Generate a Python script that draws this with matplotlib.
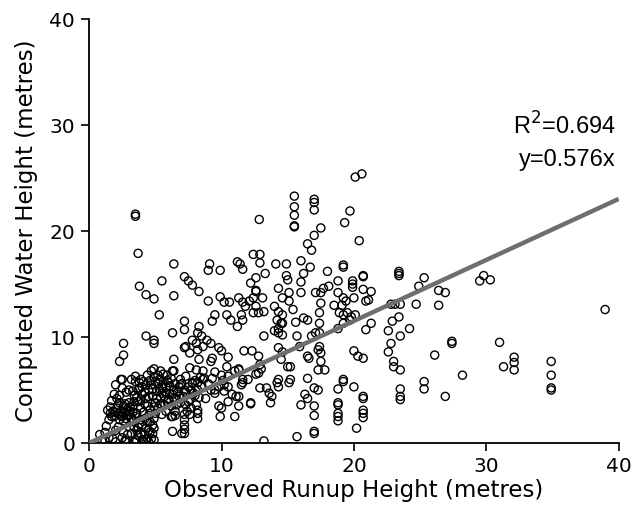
import numpy as np
import matplotlib
matplotlib.use("Agg")
import matplotlib.pyplot as plt

# observed runup (x) vs computed water height (y)
pts_dense = [
    (1.0, 0.3), (0.8, 0.8), (1.2, 1.0), (1.5, 0.5), (1.5, 2.2), (1.6, 2.8), (1.6, 3.4),
    (1.7, 4.0), (1.8, 3.0), (1.9, 2.5), (2.0, 5.5), (1.9, 4.6), (2.0, 1.2), (1.8, 0.4),
    (2.1, 3.3), (2.2, 2.8), (2.3, 2.2), (2.3, 3.8), (2.4, 3.0), (2.5, 2.5), (2.5, 0.5),
    (2.6, 3.5), (2.7, 2.9), (2.8, 4.8), (2.8, 2.3), (2.9, 3.2), (2.9, 0.8), (3.0, 2.7),
    (2.2, 1.5), (2.6, 1.0), (2.7, 0.2), (3.0, 3.8), (2.4, 6.0), (2.1, 4.2),
    (3.1, 3.0), (3.2, 2.4), (3.3, 3.5), (3.4, 4.5), (3.5, 5.8), (3.5, 6.3), (3.6, 2.8),
    (3.7, 3.9), (3.8, 5.2), (3.9, 3.3), (3.5, 0.3), (3.6, 1.2), (3.7, 0.7), (3.8, 1.8),
    (3.9, 2.2), (3.4, 1.5), (3.2, 0.9), (3.9, 6.0), (4.0, 4.6),
    (4.1, 5.8), (4.2, 3.7), (4.3, 4.2), (4.4, 6.4), (4.5, 5.0), (4.6, 3.1), (4.7, 5.5),
    (4.8, 4.4), (4.9, 6.2), (5.0, 3.8), (4.1, 0.2), (4.2, 0.8), (4.3, 1.4), (4.4, 2.0),
    (4.5, 2.6), (4.6, 1.0), (4.7, 0.4), (4.8, 1.7), (4.9, 2.3), (4.1, 2.9), (4.4, 0.4),
    (4.7, 6.8), (4.9, 7.0),
    (5.1, 4.9), (5.2, 5.6), (5.3, 6.0), (5.4, 4.3), (5.5, 5.2), (5.6, 6.5), (5.7, 3.6),
    (5.8, 4.7), (5.9, 5.9), (6.0, 4.1), (5.2, 3.3), (5.5, 2.7), (5.8, 3.0), (5.9, 6.4),
    (6.1, 5.4), (6.2, 3.5), (6.3, 4.6), (6.4, 5.0), (6.5, 3.0), (6.6, 4.2), (6.8, 5.3),
    (6.9, 3.8), (6.2, 2.5), (6.5, 2.6), (6.3, 6.8), (6.7, 4.8), (6.9, 6.0),
    (7.1, 4.4), (7.2, 5.0), (7.3, 3.6), (7.5, 5.3), (7.6, 4.1), (7.8, 5.6), (7.9, 4.7),
    (8.0, 5.9), (8.2, 5.0), (8.4, 6.2), (7.4, 3.0), (7.7, 3.3), (8.1, 3.6), (8.3, 4.3),
    (7.6, 2.7), (8.5, 5.4), (8.6, 6.0),
    (1.2, 0.2), (2.0, 0.1), (2.8, 0.2), (3.4, 0.1), (4.0, 0.3), (4.5, 0.1),
    (6.3, 1.1), (7.0, 0.9), (6.3, 2.5), (7.2, 1.3), (7.2, 0.9), (7.2, 1.7), (7.2, 2.2),
    (7.2, 2.7), (8.2, 2.8), (8.2, 2.3), (8.2, 3.1),
    # second pass over the darkest part of the cluster
    (1.7, 2.5), (2.0, 2.9), (2.2, 3.6), (2.4, 2.6), (2.6, 2.1), (2.7, 3.7), (2.9, 2.6),
    (3.1, 3.4), (3.3, 2.9), (3.4, 3.9), (3.6, 4.3), (3.7, 5.0), (3.8, 5.7), (3.9, 4.1),
    (4.0, 5.3), (4.2, 4.8), (4.3, 5.5), (4.4, 3.5), (4.5, 4.4), (4.6, 5.9), (4.8, 5.1),
    (4.9, 3.4), (5.0, 5.8), (5.1, 4.2), (5.2, 6.4), (5.3, 5.1), (5.4, 3.7), (5.5, 4.7),
    (5.6, 5.6), (5.7, 4.4), (5.8, 5.3), (5.9, 3.9), (6.0, 5.7), (6.1, 4.6), (6.2, 6.1),
    (6.4, 4.2), (6.5, 5.6), (6.6, 3.6), (6.8, 4.4), (7.0, 5.6), (7.3, 4.8), (7.5, 3.9),
    (7.7, 5.0), (8.0, 4.5), (8.2, 5.7),
    (3.6, 0.2), (3.7, 1.5), (3.9, 0.9), (4.0, 1.7), (4.2, 2.3), (4.3, 0.3), (4.5, 1.2),
    (4.6, 2.0), (4.8, 0.9), (4.9, 1.4), (5.0, 2.8), (4.9, 0.3), (3.3, 2.0), (3.5, 2.5),
    (1.3, 1.6), (1.4, 3.1), (2.3, 4.5), (2.5, 5.2), (3.0, 5.0), (3.2, 6.0), (3.3, 4.9),
]

pts_mid = [
    (9.0, 13.4), (9.5, 12.1), (9.3, 11.5), (9.9, 13.8), (10.2, 13.3), (10.4, 12.1),
    (10.7, 11.6), (10.6, 13.3), (8.3, 11.0), (8.5, 10.1), (8.9, 9.7), (9.2, 9.4),
    (8.1, 9.4), (8.6, 9.1), (9.8, 9.0), (10.0, 8.7), (9.3, 8.0), (9.2, 7.7), (8.3, 7.9),
    (7.6, 7.1), (8.1, 6.9), (8.6, 6.8), (9.5, 6.7), (9.3, 6.1), (10.0, 6.4), (10.5, 8.1),
    (10.4, 7.2), (8.7, 6.1), (9.8, 5.3), (10.2, 5.5), (10.5, 5.3), (9.2, 5.0), (7.8, 5.7),
    (7.3, 6.3), (6.9, 5.5),
    (11.3, 13.7), (11.6, 13.3), (11.8, 12.9), (12.1, 13.4), (12.4, 13.7), (12.6, 14.3),
    (12.6, 14.4), (12.6, 12.9), (12.4, 12.3), (12.8, 12.3), (11.5, 12.1), (11.6, 11.6),
    (11.2, 11.0), (12.2, 15.1), (13.1, 13.7), (13.2, 12.4), (13.2, 10.1),
    (11.7, 8.7), (12.3, 8.7), (12.8, 8.2), (12.9, 7.4), (11.3, 6.9), (11.6, 6.0),
    (11.6, 5.7), (12.8, 6.6), (12.9, 5.2), (13.4, 5.2), (13.6, 4.7), (13.8, 4.4),
    (13.7, 3.8), (11.1, 4.4),
    (14.0, 12.9), (14.3, 12.4), (14.2, 11.6), (14.6, 12.1), (14.5, 11.3), (14.3, 10.8),
    (14.3, 10.4), (14.6, 10.2), (14.6, 11.3), (14.6, 13.7), (15.1, 13.4), (15.4, 12.6),
    (15.1, 14.2), (14.3, 14.6), (14.0, 10.6), (14.3, 9.0), (14.5, 7.9), (14.6, 8.6),
    (15.0, 7.2), (15.2, 7.2), (14.3, 6.0), (14.3, 5.3), (14.2, 5.7), (15.2, 6.0),
    (15.1, 5.7), (15.7, 10.1), (15.9, 9.1), (15.6, 11.4), (16.0, 14.2),
    (16.2, 11.8), (16.5, 11.6), (16.8, 10.1), (17.1, 10.4), (17.4, 10.4), (17.4, 11.3),
    (17.4, 12.3), (17.5, 13.2), (17.5, 14.2), (17.7, 14.6), (17.1, 14.2), (17.4, 9.1),
    (17.3, 8.8), (17.5, 8.5), (16.5, 8.2), (16.6, 8.0), (17.5, 7.7), (17.3, 6.9),
    (17.8, 6.9), (16.5, 6.1), (16.5, 4.2), (16.3, 4.6),
    (18.1, 14.8), (18.5, 13.0), (18.9, 12.3), (19.2, 12.1), (19.5, 12.3), (19.7, 11.6),
    (19.1, 13.0), (19.2, 13.7), (18.8, 10.8), (19.2, 11.3), (19.8, 11.9), (20.1, 12.1),
    (21.3, 11.3), (20.9, 10.7),
    (7.2, 11.5), (7.2, 10.7), (7.3, 9.1), (7.2, 9.0), (7.6, 8.5), (6.3, 10.4), (8.2, 10.4),
    (7.8, 9.7), (8.2, 8.8),
    (4.3, 10.1), (4.9, 9.7), (4.9, 9.4), (2.6, 9.4), (2.6, 8.3), (2.3, 7.7), (2.5, 6.0),
    (6.4, 7.9), (6.4, 6.8), (5.4, 6.8),
    (8.8, 4.2), (9.0, 5.6), (9.5, 5.0), (10.1, 5.9), (10.5, 6.3), (11.0, 6.8), (11.3, 7.0),
    (11.5, 5.5), (12.0, 6.0), (10.8, 4.6), (10.0, 3.3), (10.5, 3.9), (12.6, 6.5), (13.0, 7.0),
    (11.0, 2.5), (11.3, 3.5), (11.3, 4.4), (12.2, 3.8), (12.2, 3.7), (9.9, 2.5), (9.8, 3.5),
    (10.2, 4.9), (9.5, 4.7),
]

pts_high = [
    (15.5, 23.3), (15.5, 22.3), (15.5, 21.5), (15.5, 20.5), (15.5, 20.4),
    (17.0, 23.0), (17.0, 22.7), (17.0, 22.0), (20.1, 25.1), (20.6, 25.4),
    (19.7, 21.9), (19.3, 20.8), (20.4, 19.1), (3.5, 21.6), (3.5, 21.4), (3.7, 17.9),
    (12.85, 21.1), (17.5, 20.3), (17.0, 19.6), (16.5, 18.8), (16.8, 18.2), (16.0, 17.2),
    (16.7, 16.6), (16.2, 16.0), (16.0, 15.2),
    (12.4, 17.8), (12.9, 17.8), (11.2, 17.1), (11.4, 16.9), (11.6, 16.4), (12.9, 17.0),
    (13.3, 16.0), (12.6, 15.6), (14.1, 16.9), (14.9, 16.9), (14.9, 15.8), (15.0, 15.4),
    (18.0, 16.2), (19.2, 16.8), (19.2, 16.6),
    (6.4, 16.9), (5.5, 15.3), (3.8, 14.8), (4.3, 14.0), (4.9, 13.6), (6.4, 13.9), (5.3, 12.1),
    (9.1, 16.9), (9.9, 16.3), (9.0, 16.3), (7.2, 15.7), (7.5, 15.3), (7.8, 14.9), (8.3, 14.3),
    (18.8, 15.3), (19.9, 15.3), (19.9, 15.0), (19.9, 14.7), (20.7, 15.8), (20.7, 15.7),
    (20.7, 14.5), (21.3, 14.3), (21.1, 13.5), (20.9, 13.4), (20.0, 13.7), (19.4, 13.4),
    (18.8, 14.2),
    (23.4, 16.2), (23.4, 16.0), (23.4, 15.8), (25.3, 15.6), (24.9, 14.8), (26.4, 14.4),
    (26.9, 14.2), (26.4, 13.0), (24.7, 13.1), (29.5, 15.3), (29.8, 15.8), (30.3, 15.4),
    (38.97, 12.6),
    (22.8, 13.1), (23.1, 13.1), (23.5, 13.1), (23.4, 11.9), (22.9, 11.5), (22.6, 10.6),
    (23.5, 10.1), (24.2, 10.8), (27.4, 9.6), (27.4, 9.4), (31.0, 9.5), (26.1, 8.3),
    (22.6, 8.6), (22.8, 9.4), (32.1, 8.1), (32.1, 7.6), (32.1, 6.9), (31.3, 7.2),
    (34.9, 7.7), (34.9, 6.4), (34.9, 5.2), (34.9, 5.0), (28.2, 6.4), (26.9, 4.4),
    (25.3, 5.8), (25.3, 5.1), (23.0, 7.7), (23.0, 7.2), (23.5, 6.9), (23.5, 5.1),
    (23.5, 4.4), (23.5, 4.1),
    (20.0, 8.7), (20.3, 8.2), (20.7, 8.0), (20.0, 5.3), (20.7, 4.4), (20.7, 4.2),
    (20.7, 3.1), (20.7, 2.8), (20.7, 2.4), (20.2, 1.4), (19.2, 6.0), (19.2, 5.8),
    (18.8, 5.1), (18.8, 3.8), (18.8, 3.6), (18.8, 2.8), (18.8, 2.5), (18.8, 2.1),
    (17.0, 5.2), (17.3, 5.0), (17.0, 3.5), (17.0, 2.6), (17.0, 1.1), (17.0, 0.9),
    (16.0, 3.6), (15.7, 0.6), (13.2, 0.2),
]

slope = 0.576
r2 = 0.694

pts = np.array(pts_dense + pts_mid + pts_high)
obs = pts[:, 0]
comp = pts[:, 1]

fig = plt.figure(figsize=(6.32, 5.19), dpi=100)
ax = fig.add_axes([0.141, 0.1464, 0.838, 0.8166])

ax.scatter(obs, comp, s=34, facecolors="none", edgecolors="black", linewidths=1.0, zorder=2)
xl = np.array([0, 40])
ax.plot(xl, slope * xl, color="#6e6e6e", lw=3.2, zorder=3, solid_capstyle="butt")

ax.text(39.8, 29.9, "R$^2$=%.3f" % r2, ha="right", va="center", fontsize=17,
        family="Liberation Sans")
ax.text(39.8, 26.7, "y=%.3fx" % slope, ha="right", va="center", fontsize=17,
        family="Liberation Sans")

ax.set_xlim(0, 40)
ax.set_ylim(0, 40)
ax.set_xticks([0, 10, 20, 30, 40])
ax.set_yticks([0, 10, 20, 30, 40])
for s in ["top", "right"]:
    ax.spines[s].set_visible(False)
for s in ["left", "bottom"]:
    ax.spines[s].set_linewidth(1.3)
ax.tick_params(direction="out", length=6, width=1.2, labelsize=14.5, pad=4)
ax.set_xlabel("Observed Runup Height (metres)", fontsize=16.5, labelpad=2)
ax.set_ylabel("Computed Water Height (metres)", fontsize=16.5, labelpad=8)

fig.savefig("out.png", dpi=100)
